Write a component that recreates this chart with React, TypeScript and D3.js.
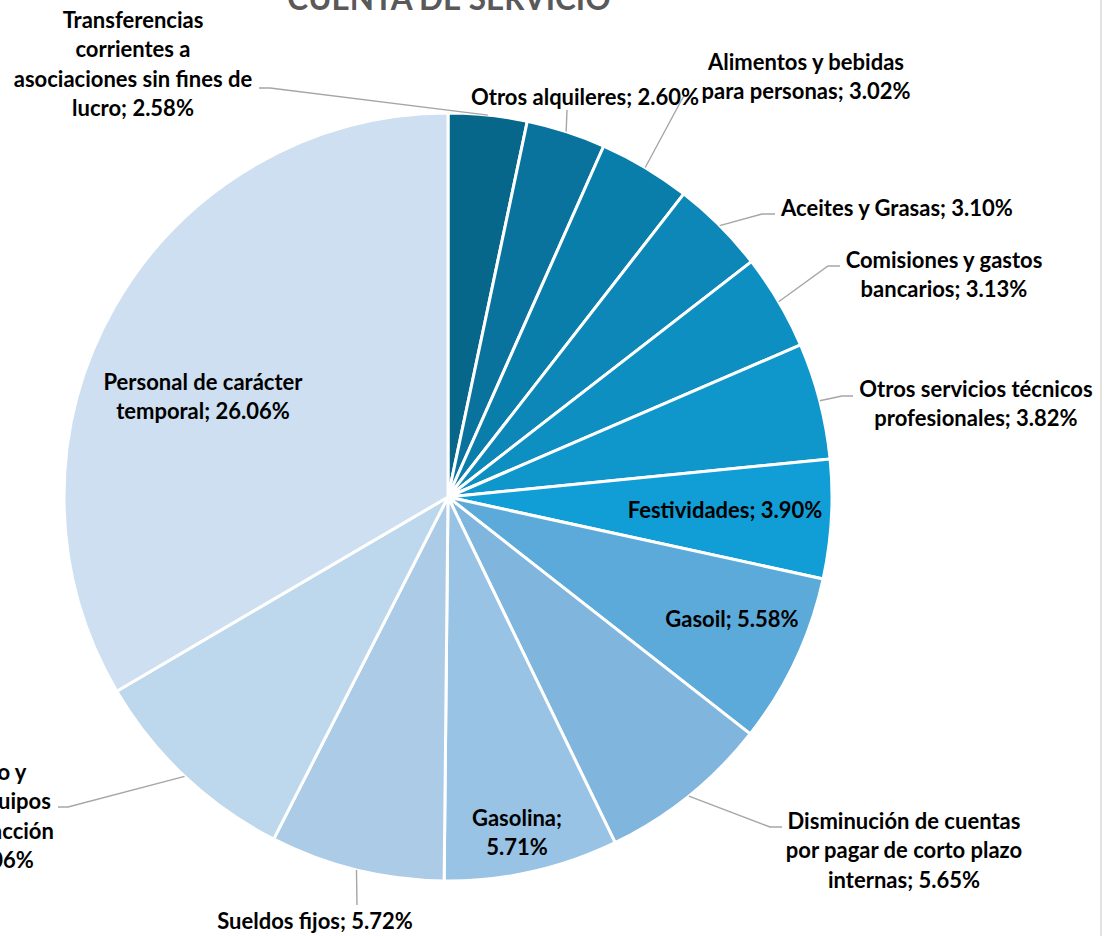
import * as d3 from 'd3';

// slices in the order Excel draws them, clockwise from 12 o'clock
const categories = [
  'Transferencias corrientes a asociaciones sin fines de lucro',
  'Otros alquileres',
  'Alimentos y bebidas para personas',
  'Aceites y Grasas',
  'Comisiones y gastos bancarios',
  'Otros servicios técnicos profesionales',
  'Festividades',
  'Gasoil',
  'Disminución de cuentas por pagar de corto plazo internas',
  'Gasolina',
  'Sueldos fijos',
  'Mantenimiento y reparación de equipos de transporte, tracción y elevación',
  'Personal de carácter temporal',
];

const values = [2.58, 2.6, 3.02, 3.1, 3.13, 3.82, 3.9, 5.58, 5.65, 5.71, 5.72, 7.06, 26.06];

// label text as it wraps in the original ({v} = percentage)
const labelLines = [
  ['Transferencias', 'corrientes a', 'asociaciones sin fines de', 'lucro; {v}'],
  ['Otros alquileres; {v}'],
  ['Alimentos y bebidas', 'para personas; {v}'],
  ['Aceites y Grasas; {v}'],
  ['Comisiones y gastos', 'bancarios; {v}'],
  ['Otros servicios técnicos', 'profesionales; {v}'],
  ['Festividades; {v}'],
  ['Gasoil; {v}'],
  ['Disminución de cuentas', 'por pagar de corto plazo', 'internas; {v}'],
  ['Gasolina;', '{v}'],
  ['Sueldos fijos; {v}'],
  ['Mantenimiento y', 'reparación de equipos', 'de transporte, tracción', 'y elevación; {v}'],
  ['Personal de carácter', 'temporal; {v}'],
];

const colors = [
  '#07678a', '#09739d', '#0a7eab', '#0c87b7', '#0e8fc2', '#0f97cc', '#119ed6',
  '#5caada', '#80b5dd', '#98c3e4', '#abcbe7', '#bdd7ec', '#cddff0',
];

const title = 'CUENTA DE SERVICIO';

// label placement (centre of first line) and leader elbows, like the excel layout
const labelLayout: { x: number; y: number; leader?: [number, number][] }[] = [
  { x: 133, y: 20, leader: [[270, 88], [259, 88]] },
  { x: 585, y: 97, leader: [[567, 110]] },
  { x: 806, y: 62, leader: [[681, 101], [684, 96]] },
  { x: 897, y: 208, leader: [[762, 214], [775, 214]] },
  { x: 944, y: 260, leader: [[828, 266], [840, 266]] },
  { x: 976, y: 389, leader: [[842, 396], [853, 396]] },
  { x: 725, y: 510 },
  { x: 732, y: 619 },
  { x: 904, y: 821, leader: [[770, 827], [782, 827]] },
  { x: 517, y: 818 },
  { x: 315, y: 921, leader: [[357, 905]] },
  { x: -57, y: 772, leader: [[68, 807], [58, 807]] },
  { x: 203, y: 382 },
];

const width = 1109;
const height = 936;
const cx = 448;
const cy = 497;
const radius = 384;
const lineH = 29.3;
const font = 'Lato, "Open Sans", sans-serif';

export default function App() {
  const data = values.map((v, i) => ({ label: categories[i], value: v, i }));
  const pie = d3
    .pie<{ label: string; value: number; i: number }>()
    .sort(null)
    .value((d) => d.value);
  const arcs = pie(data);
  const arc = d3
    .arc<d3.PieArcDatum<{ label: string; value: number; i: number }>>()
    .innerRadius(0)
    .outerRadius(radius);
  const rim = d3
    .arc<d3.PieArcDatum<{ label: string; value: number; i: number }>>()
    .innerRadius(radius)
    .outerRadius(radius);

  const fmt = (v: number) => `${v.toFixed(2)}%`;

  return (
    <div style={{ position: 'absolute', left: 0, top: 0 }}>
      <svg width={width} height={height} style={{ display: 'block', background: '#fff' }}>
        <text
          x={cx + 1}
          y={10}
          textAnchor="middle"
          fontFamily={font}
          fontWeight={700}
          fontSize={31.5}
          fill="#595959"
        >
          {title}
        </text>
        <g transform={`translate(${cx},${cy})`}>
          {arcs.map((a) => (
            <path
              key={a.data.label}
              d={arc(a) || ''}
              fill={colors[a.data.i]}
              stroke="#fff"
              strokeWidth={3}
              strokeLinejoin="round"
            />
          ))}
        </g>
        {arcs.map((a) => {
          const lay = labelLayout[a.data.i];
          if (!lay.leader) return null;
          const [px, py] = rim.centroid(a);
          const pts: [number, number][] = [[cx + px, cy + py], ...lay.leader];
          return (
            <path
              key={'l' + a.data.label}
              d={d3.line()(pts) || ''}
              fill="none"
              stroke="#a6a6a6"
              strokeWidth={1.4}
            />
          );
        })}
        {arcs.map((a) => {
          const lay = labelLayout[a.data.i];
          const lines = labelLines[a.data.i].map((s) => s.replace('{v}', fmt(a.data.value)));
          return (
            <text
              key={'t' + a.data.label}
              textAnchor="middle"
              fontFamily={font}
              fontWeight={700}
              fontSize={22}
              fill="#000"
            >
              {lines.map((s, j) => (
                <tspan key={j} x={lay.x} y={lay.y + j * lineH} dy="0.36em">
                  {s}
                </tspan>
              ))}
            </text>
          );
        })}
        <line x1={1101} x2={1101} y1={0} y2={height} stroke="#d9d9d9" strokeWidth={1.5} />
      </svg>
    </div>
  );
}
